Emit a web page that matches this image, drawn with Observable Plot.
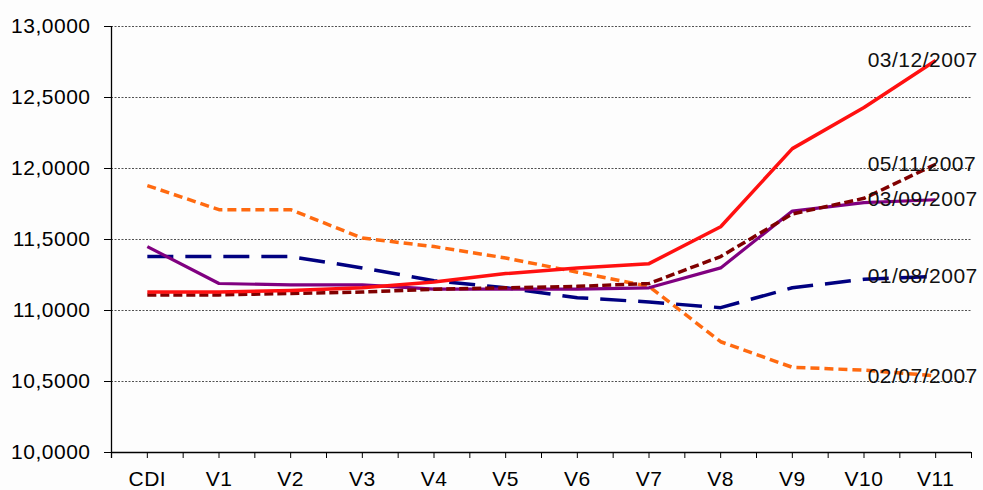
<!DOCTYPE html>
<html>
<head>
<meta charset="utf-8">
<script src="https://cdn.jsdelivr.net/npm/d3@7"></script>
<script src="https://cdn.jsdelivr.net/npm/@observablehq/plot@0.6"></script>
<style>
  html, body { margin: 0; padding: 0; background: #fdfdfd; }
  svg text { letter-spacing: 0.5px; }
</style>
</head>
<body>
<div id="chart"></div>
<script>
const categories = ["CDI","V1","V2","V3","V4","V5","V6","V7","V8","V9","V10","V11"];
const seriesNames = ["02/07/2007","01/08/2007","03/09/2007","05/11/2007","03/12/2007"];
const s020707 = [11.88, 11.71, 11.71, 11.51, 11.45, 11.37, 11.27, 11.17, 10.78, 10.60, 10.58, 10.54];
const s010807 = [11.38, 11.38, 11.38, 11.30, 11.21, 11.16, 11.09, 11.06, 11.02, 11.16, 11.22, 11.24];
const s030907 = [11.45, 11.19, 11.18, 11.18, 11.15, 11.15, 11.15, 11.16, 11.30, 11.70, 11.76, 11.78];
const s051107 = [11.11, 11.11, 11.12, 11.13, 11.15, 11.16, 11.17, 11.19, 11.38, 11.68, 11.79, 12.03];
const s031207 = [11.13, 11.13, 11.14, 11.16, 11.20, 11.26, 11.30, 11.33, 11.59, 12.14, 12.43, 12.76];
const yTicks = [10, 10.5, 11, 11.5, 12, 12.5, 13];

const seriesValues = [s020707, s010807, s030907, s051107, s031207];
const styles = [
  {stroke: "#ff6a10", strokeWidth: 3.5, strokeDasharray: "9,5"},
  {stroke: "#000080", strokeWidth: 3.5, strokeDasharray: "26,12"},
  {stroke: "#800080", strokeWidth: 3.2},
  {stroke: "#800000", strokeWidth: 3.5, strokeDasharray: "9,4"},
  {stroke: "#ff1010", strokeWidth: 3.5}
];

const lineMarks = seriesNames.map((name, k) =>
  Plot.line(seriesValues[k].map((v, i) => ({i, v, name})),
    {x: "i", y: "v", ...styles[k], strokeLinejoin: "round", strokeLinecap: "butt"})
);
const labels = seriesNames.map((name, k) => ({name, i: categories.length - 1, v: seriesValues[k][categories.length - 1]}));

const chart = Plot.plot({
  width: 983,
  height: 490,
  marginLeft: 111,
  marginRight: 12,
  marginTop: 26,
  marginBottom: 38,
  x: {type: "linear", domain: [-0.5, categories.length - 0.5]},
  y: {domain: [10, 13]},
  style: {fontFamily: "'Liberation Sans', Arial, sans-serif", fontSize: "21px", background: "#fdfdfd", color: "#000", overflow: "visible"},
  marks: [
    Plot.gridY(yTicks, {stroke: "#333", strokeOpacity: 0.85, strokeDasharray: "2,1.5", strokeWidth: 1}),
    Plot.axisY({ticks: yTicks, tickFormat: d => d.toFixed(4).replace(".", ","), tickSize: 7, tickPadding: 14, label: null, fontSize: 21, fontWeight: 300}),
    Plot.axisX({ticks: d3.range(-0.5, categories.length, 0.5), tickFormat: d => Number.isInteger(d) ? categories[d] : "", tickSize: 6, tickPadding: 13, label: null, fontSize: 21}),
    Plot.ruleX([-0.5], {y1: 13, y2: 10, insetBottom: -6, stroke: "#000", strokeWidth: 1.3}),
    Plot.ruleY([10], {stroke: "#000", strokeWidth: 1.3}),
    ...lineMarks,
    Plot.text(labels, {x: "i", y: "v", text: "name", dx: -68, textAnchor: "start", fontSize: 21, fill: "#111"})
  ]
});
document.getElementById("chart").append(chart);
</script>
</body>
</html>
